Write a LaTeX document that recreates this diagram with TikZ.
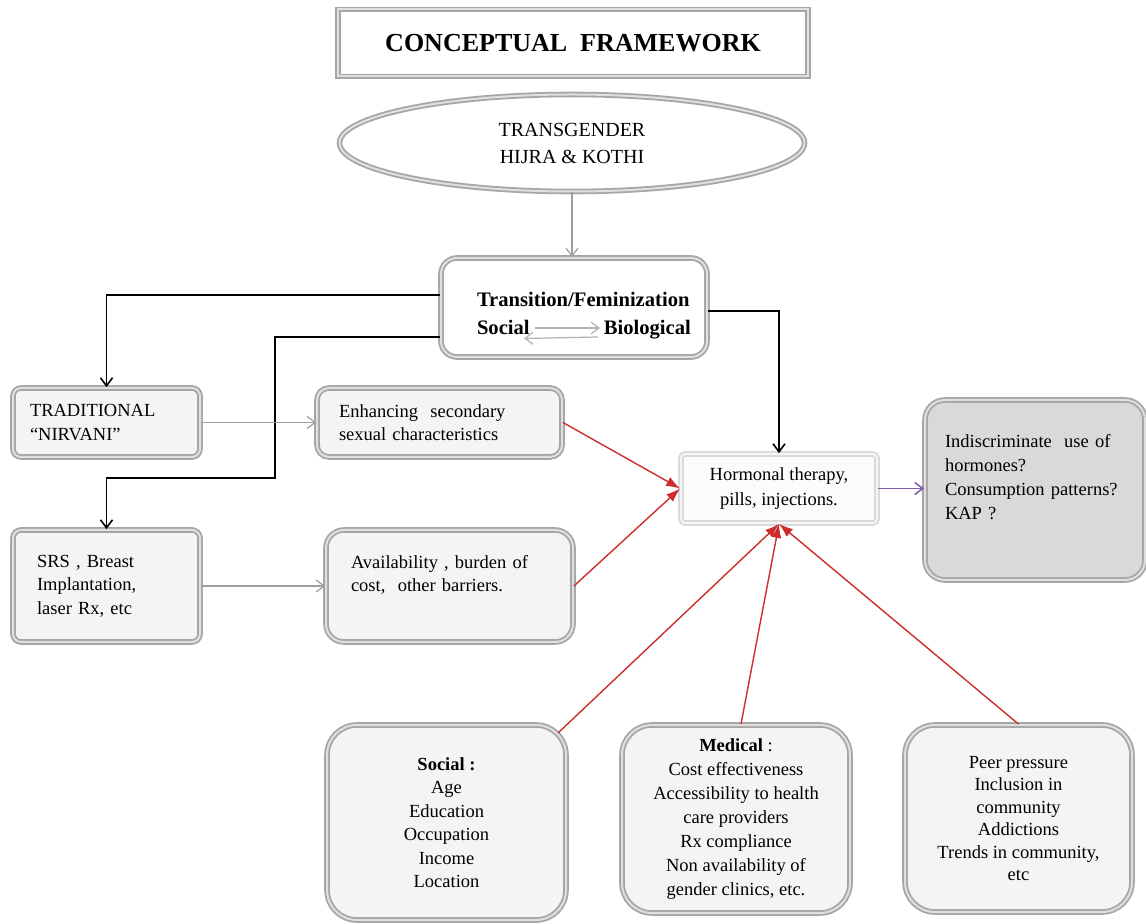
\documentclass[tikz,border=0pt]{standalone}
\usepackage{fontspec}
\setmainfont{Liberation Serif}
\usetikzlibrary{arrows.meta,shapes.geometric}
\definecolor{redln}{RGB}{205,45,45}
\definecolor{purln}{RGB}{128,96,170}
\begin{document}
\begin{tikzpicture}
[x=0.5pt,y=-0.5pt,font=\fontsize{9.25}{11.75}\selectfont,
bx/.style={draw=gray!70,double=gray!25,double distance=1pt,line width=0.9pt,fill=gray!9},
gr/.style={-{Straight Barb[length=4pt,width=6pt]},gray!75,line width=0.6pt},
bk/.style={-{Straight Barb[length=4pt,width=6pt]},black,line width=0.8pt},
rd/.style={-{Latex[length=7pt,width=5pt]},redln,line width=0.7pt},
pu/.style={-{Straight Barb[length=4pt,width=6pt]},purln,line width=0.8pt}]
\useasboundingbox (0,0) rectangle (1146,924);
\node [bx,fill=white,minimum width=235pt,minimum height=33.5pt,font=\fontsize{13}{15}\selectfont\bfseries] at (573,43) (T) {CONCEPTUAL\ \ FRAMEWORK};
\node [bx,fill=white,ellipse,minimum width=232.5pt,minimum height=48.5pt,align=center,font=\fontsize{10}{13.5}\selectfont] at (572,143) (E) {TRANSGENDER\\HIJRA \& KOTHI};
\node [bx,fill=white,rounded corners=8pt,minimum width=133pt,minimum height=49.5pt,text width=117pt,align=left,font=\fontsize{10.3}{14}\selectfont\bfseries] at (574,307.5) (TF) {\hspace*{10pt}\rule{0pt}{15pt}Transition/Feminization\\\hspace*{10pt}Social\hspace{3.6em}Biological};
\node [bx,rounded corners=4pt,minimum width=93.5pt,minimum height=34.5pt,text width=76.5pt,align=left] at (106.5,422.5) (TR) {TRADITIONAL\\``NIRVANI''};
\node [bx,rounded corners=6pt,minimum width=122.5pt,minimum height=34.5pt,text width=100.5pt,align=left] at (439.5,422.5) (EN) {Enhancing\ \ secondary\\sexual characteristics};
\node [bx,rounded corners=4pt,minimum width=93.5pt,minimum height=56pt,text width=69.5pt,align=left] at (106.5,586) (SR) {SRS , Breast\\Implantation,\\laser Rx, etc};
\node [bx,rounded corners=9pt,minimum width=123.5pt,minimum height=56pt,text width=98.5pt,align=left] at (449.5,586) (AV) {Availability , burden of\\cost,\ \ other barriers.\rule[-12.5pt]{0pt}{0pt}};
\node [bx,draw=gray!30,double=gray!8,fill=gray!3,rounded corners=2pt,minimum width=98pt,minimum height=34.5pt,align=center,font=\fontsize{9.25}{12.5}\selectfont] at (779,488.5) (HT) {Hormonal therapy,\\pills, injections.};
\node [bx,fill=gray!30,rounded corners=10pt,minimum width=110pt,minimum height=90pt,text width=90pt,align=left,font=\fontsize{9.25}{12}\selectfont] at (1035,490) (IN) {Indiscriminate\ \ use of\\hormones?\\Consumption patterns?\\KAP ?\rule[-13pt]{0pt}{0pt}};
\node [bx,rounded corners=15pt,minimum width=119.5pt,minimum height=97.5pt,align=center] at (446.5,822.5) (SO) {\textbf{Social :}\\Age\\Education\\Occupation\\Income\\Location};
\node [bx,rounded corners=15pt,minimum width=114pt,minimum height=94pt,align=center,font=\fontsize{9.25}{12}\selectfont] at (736,819) (ME) {\textbf{Medical} :\\Cost effectiveness\\Accessibility to health\\care providers\\Rx compliance\\Non availability of\\gender clinics, etc.};
\node [bx,rounded corners=15pt,minimum width=113.5pt,minimum height=93.5pt,align=center,font=\fontsize{9.25}{11.25}\selectfont] at (1018.5,818.5) (PE) {Peer pressure\\Inclusion in\\community\\Addictions\\Trends in community,\\etc};

\coordinate (s1) at ([shift={(-39,20.5)}]TF.center);
\coordinate (b1) at ([shift={(26,20.5)}]TF.center);
\coordinate (b2) at ([shift={(24,29.5)}]TF.center);
\coordinate (s2) at ([shift={(-50,31)}]TF.center);
\coordinate (K) at (275,478);

\draw [gr] (E.south) -- (E.south |- TF.north);
\draw [gr,gray!60] (s1) -- (b1);
\draw [gr,gray!60] (b2) -- (s2);
\draw [bk] ([yshift=6.25pt]TF.west) -| (TR.north);
\draw [bk] ([yshift=-14.75pt]TF.west) -| (K) -| (SR.north);
\draw [bk] ([yshift=-1.75pt]TF.east) -| (HT.north);
\draw [gr] (TR) -- (EN);
\draw [gr] (SR) -- (AV);
\draw [rd] (EN.east) -- (HT.west);
\draw [rd] (AV.east) -- (HT.west);
\draw [rd] ([shift={(-4.5pt,-4.5pt)}]SO.north east) -- (HT.south);
\draw [rd] ([xshift=2.5pt]ME.north) -- (HT.south);
\draw [rd] (PE.north) -- (HT.south);
\draw [pu] (HT.east) -- (HT.east -| IN.west);
\end{tikzpicture}
\end{document}
